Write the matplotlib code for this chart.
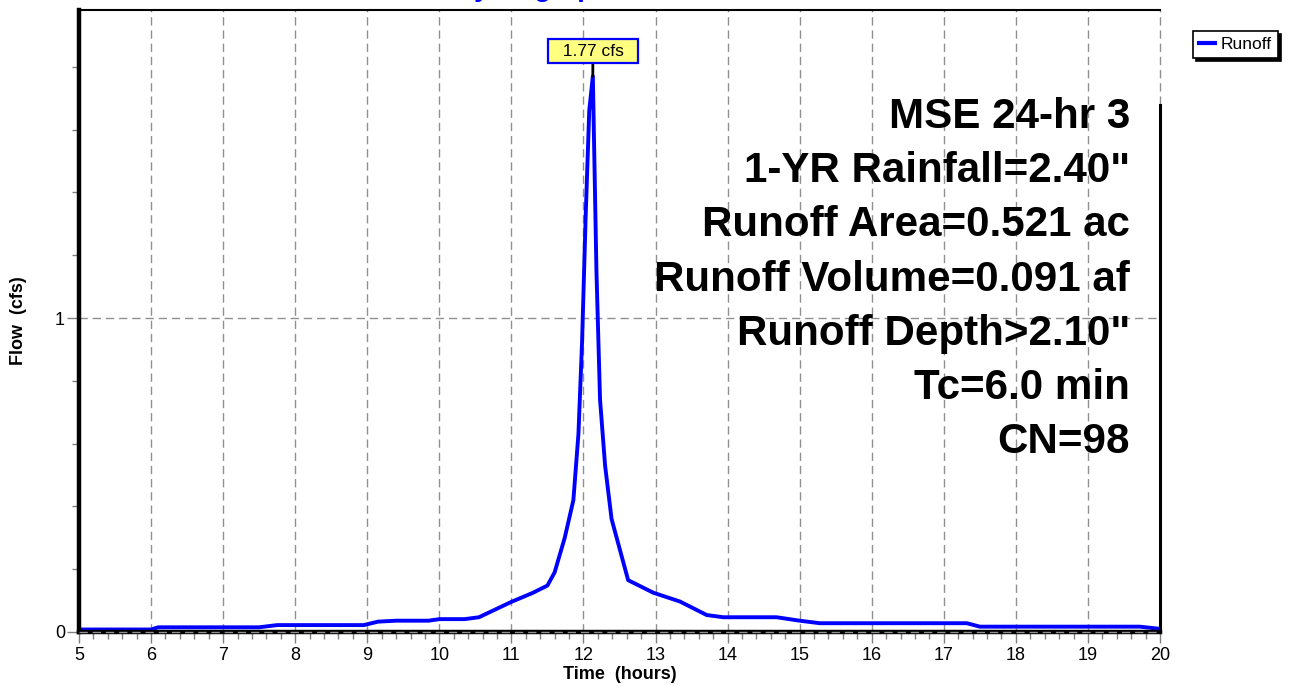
import matplotlib.pyplot as plt
from matplotlib.ticker import MultipleLocator, FixedLocator

plt.rcParams['font.family'] = ['Liberation Sans', 'DejaVu Sans']

# Runoff hydrograph (hours, cfs)
time_hr = [5.0, 6.0, 6.1, 7.5, 7.75, 8.95, 9.15, 9.4, 9.85, 10.0, 10.35, 10.55,
           11.0, 11.3, 11.5, 11.6, 11.74, 11.86, 11.93, 11.98, 12.03, 12.08, 12.13,
           12.18, 12.23, 12.3, 12.39, 12.62, 12.97, 13.34, 13.71, 13.94, 14.68,
           15.0, 15.28, 17.32, 17.5, 19.72, 20.0]
flow_cfs = [0.008, 0.008, 0.015, 0.015, 0.022, 0.022, 0.033, 0.036, 0.036, 0.041, 0.041, 0.047,
            0.096, 0.125, 0.148, 0.19, 0.30, 0.42, 0.63, 0.92, 1.32, 1.66, 1.77,
            1.15, 0.74, 0.53, 0.36, 0.165, 0.125, 0.097, 0.054, 0.047, 0.047,
            0.036, 0.028, 0.028, 0.017, 0.017, 0.01]
peak_time = 12.13
peak_flow = 1.77

info_lines = ['MSE 24-hr 3', '1-YR Rainfall=2.40"', 'Runoff Area=0.521 ac',
              'Runoff Volume=0.091 af', 'Runoff Depth>2.10"', 'Tc=6.0 min', 'CN=98']

W, H = 1294, 686
fig = plt.figure(figsize=(W / 100, H / 100), dpi=100)
ax = fig.add_axes([79 / W, 1 - 632 / H, (1160 - 79) / W, (632 - 10) / H])

ax.plot(time_hr, flow_cfs, color='#0000ff', linewidth=2.8, label='Runoff', zorder=4,
        solid_joinstyle='round')

ax.set_xlim(5, 20)
ax.set_ylim(0, 1.981)
ax.xaxis.set_major_locator(MultipleLocator(1))
ax.xaxis.set_minor_locator(MultipleLocator(0.2))
ax.yaxis.set_major_locator(FixedLocator([0, 1]))
ax.yaxis.set_minor_locator(MultipleLocator(0.2))

ax.tick_params(axis='both', which='major', direction='out', color='#808080',
               labelsize=13, width=1)
ax.tick_params(axis='x', which='major', length=8, pad=3)
ax.tick_params(axis='y', which='major', length=9, pad=1)
ax.tick_params(axis='both', which='minor', direction='out', color='#808080',
               length=5, width=1)

# Grid
grid_kw = dict(color='#909090', linewidth=1.0, dashes=(6, 3.5))
for xv in range(6, 21):
    ax.axvline(xv, zorder=1, clip_on=False, **grid_kw)
ax.axhline(1, zorder=1, **grid_kw)
ax.axhline(0, zorder=6, clip_on=False, **grid_kw)

for side in ['left', 'bottom']:
    ax.spines[side].set_linewidth(3.2)
    ax.spines[side].set_zorder(5)
ax.spines['top'].set_linewidth(1.5)
ax.spines['right'].set_visible(False)
ax.plot([20, 20], [0, 1.68], color='black', linewidth=2.2, zorder=5, clip_on=False)

ax.set_xlabel('Time  (hours)', fontsize=13, fontweight='bold', labelpad=1)
ax.set_ylabel('Flow  (cfs)', fontsize=13, fontweight='bold', labelpad=20)

# Peak annotation
ax.annotate('  1.77 cfs  ', xy=(peak_time, peak_flow), xytext=(peak_time, 1.85),
            ha='center', va='center', fontsize=12.5,
            bbox=dict(boxstyle='square,pad=0.28', facecolor='#ffff80',
                      edgecolor='#0000ff', linewidth=1.6),
            arrowprops=dict(arrowstyle='-', color='black', linewidth=2,
                            shrinkA=0, shrinkB=0), zorder=7)

# Summary text
for i, line in enumerate(info_lines):
    py = 128 + 54.2 * i
    fig.text(1130 / W, 1 - py / H, line, ha='right', va='baseline',
             fontsize=30.3, fontweight='bold')

# Title, mostly cut off by the top edge as in the original
fig.text(533 / W, 1 + 4 / H, 'Hydrograph', ha='center', va='baseline',
         fontsize=20, fontweight='bold', color='#0000ff')

leg = fig.legend(loc='upper left', bbox_to_anchor=(1193 / W, 1 - 31 / H),
                 fontsize=12.5, frameon=True, fancybox=False, edgecolor='black',
                 framealpha=1, handlelength=0.9, handletextpad=0.35,
                 borderpad=0.35, borderaxespad=0,
                 shadow={'color': 'black', 'alpha': 1})
leg.get_frame().set_linewidth(1.2)
for ln in leg.get_lines():
    ln.set_linewidth(3)

fig.savefig('out.png', dpi=100)
